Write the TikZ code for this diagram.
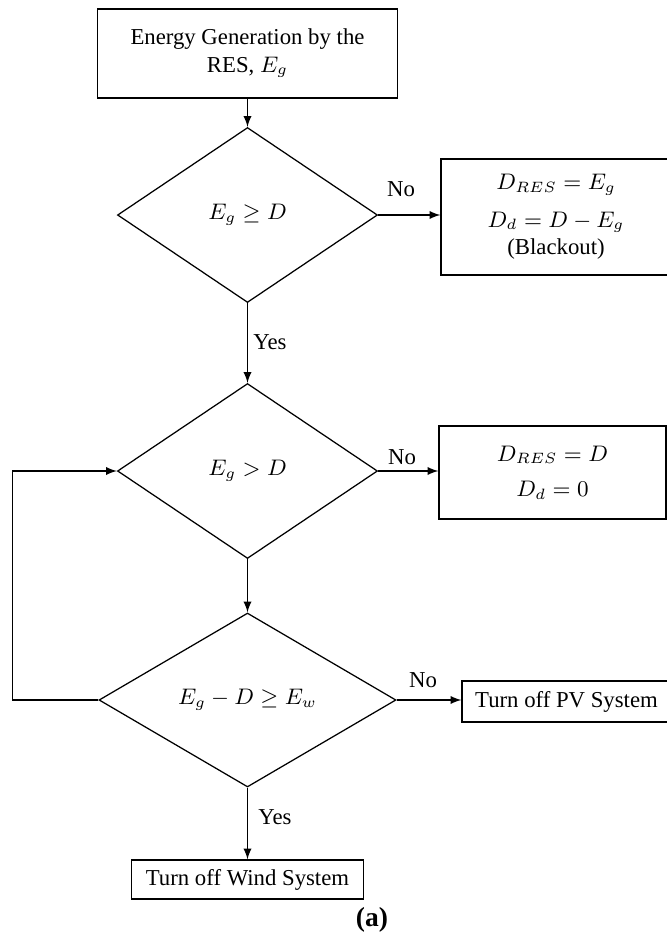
\documentclass[tikz,border=0pt]{standalone}
\usepackage{amsmath}
\usepackage{fontspec}
\setmainfont{Liberation Serif}
\usetikzlibrary{shapes.geometric}

\tikzset{
  box/.style={draw, rectangle, inner sep=0pt, align=center},
  test/.style={draw, diamond, inner sep=0pt, aspect=1.5},
  flow/.style={-latex},
}

\begin{document}
\begin{tikzpicture}[x=0.4pt, y=-0.4pt, line width=0.5pt, font=\fontsize{9.1}{11}\selectfont]
    \pgfmathsetmacro{\xc}{247.5}
    \useasboundingbox (0,0) rectangle (667,936);
    \node[box, minimum width=120pt, minimum height=35.6pt] (gen) at (\xc, 53.5) {Energy Generation by the\\RES, $E_g$};
    \node[test, minimum width=104pt, minimum height=70pt] (chk1) at (\xc, 215) {$E_g \geq D$};
    \node[test, minimum width=104pt, minimum height=70pt] (chk2) at (\xc, 471) {$E_g > D$};
    \node[test, minimum width=118.8pt, minimum height=69.6pt] (chk3) at (\xc, 700) {$E_g - D \geq E_w$};
    \node[box, minimum width=92pt, minimum height=46.4pt] (blk) at (556, 217) {$D_{RES} = E_g$\\[4pt]$D_d = D - E_g$\\(Blackout)};
    \node[box, minimum width=90.8pt, minimum height=37.2pt] (met) at (552.5, 472.5) {$D_{RES} = D$\\[3pt]$D_d = 0$};
    \node[box, minimum width=83.6pt, minimum height=16.4pt] (pv) at (566.5, 701.5) {Turn off PV System};
    \node[box, minimum width=92.8pt, minimum height=15.6pt] (wind) at (\xc, 879.5) {Turn off Wind System};
    \node (no1) at (401, 189) {No};
    \node (no2) at (402, 457) {No};
    \node (no3) at (423, 680) {No};
    \node (yes1) at (270, 342) {Yes};
    \node (yes2) at (275, 817) {Yes};
    \node[font=\fontsize{11}{13}\selectfont] (cap) at (372, 920) {\textbf{(a)}};
    \draw[flow] (gen) -- (chk1);
    \draw[flow] (chk1.east) -- (chk1.east -| blk.west);
    \draw[flow] (chk1) -- (chk2);
    \draw[flow] (chk2.east) -- (chk2.east -| met.west);
    \draw[flow] (chk2) -- (chk3);
    \draw[flow] (chk3.east) -- (chk3.east -| pv.west);
    \draw[flow] (chk3) -- (wind);
    \draw[flow] (chk3.west) -- ++(-86, 0) |- (chk2.west);
\end{tikzpicture}
\end{document}
